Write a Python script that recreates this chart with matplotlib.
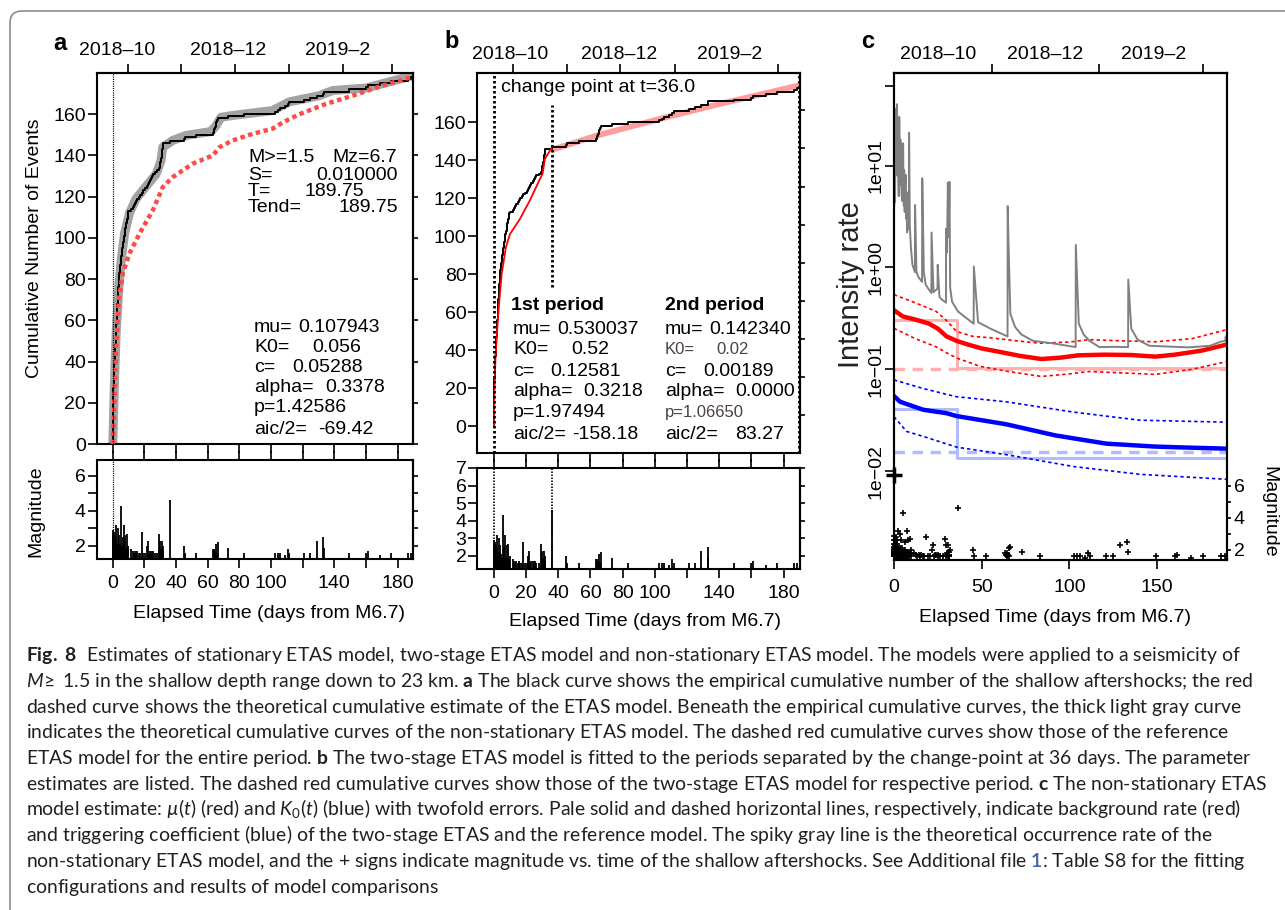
import numpy as np
import matplotlib
matplotlib.use("Agg")
import matplotlib.pyplot as plt
from matplotlib.patches import FancyBboxPatch
from matplotlib.transforms import IdentityTransform, Bbox
from matplotlib.ticker import FixedLocator, NullFormatter

W, H = 1285, 910

plt.rcParams['font.family'] = ['Liberation Sans', 'DejaVu Sans']
plt.rcParams['font.size'] = 14
plt.rcParams['axes.linewidth'] = 1.5
# caption: mixed upright / bold / italic runs through mathtext in Lato
plt.rcParams['mathtext.fontset'] = 'custom'
plt.rcParams['mathtext.rm'] = 'Lato'
plt.rcParams['mathtext.it'] = 'Lato:italic'
plt.rcParams['mathtext.bf'] = 'Lato:bold'

# ---------------------------------------------------------------------------
# Data
# ---------------------------------------------------------------------------
END_DAY = 189.75
CHANGE_DAY = 36.0
MAIN_MAG = 6.7

# shallow aftershocks M>=1.5: (days after the M6.7, magnitude)
aftershocks = [
    (0.005, 1.7), (0.01, 2.9), (0.015, 2.0), (0.02, 1.8), (0.025, 1.6), (0.03, 2.1),
    (0.035, 1.8), (0.04, 1.6), (0.045, 1.6), (0.05, 2.6), (0.06, 1.7), (0.07, 1.7),
    (0.08, 1.9), (0.09, 1.6), (0.10, 1.8), (0.11, 2.2), (0.13, 1.7), (0.15, 1.8),
    (0.17, 2.4), (0.19, 1.6), (0.22, 1.9), (0.25, 1.7), (0.28, 2.0), (0.31, 1.6),
    (0.34, 2.6), (0.38, 1.8), (0.42, 1.6), (0.46, 1.7), (0.50, 2.1), (0.55, 1.6),
    (0.60, 1.9), (0.65, 1.7), (0.70, 1.6), (0.76, 2.3), (0.82, 1.8), (0.88, 1.6),
    (0.94, 2.8), (1.00, 1.7), (1.06, 1.6), (1.12, 2.0), (1.19, 1.8), (1.26, 1.6),
    (1.33, 1.7), (1.40, 2.2), (1.47, 1.6), (1.54, 1.9), (1.61, 2.6), (1.68, 1.6),
    (1.75, 2.4), (1.82, 1.8), (1.89, 1.6), (1.96, 2.0), (2.02, 1.7), (2.08, 3.2),
    (2.14, 1.6), (2.20, 1.8), (2.26, 1.6), (2.32, 2.2), (2.38, 1.7), (2.43, 1.6),
    (2.48, 1.9),
    (2.55, 1.7), (2.60, 1.6), (2.66, 1.8), (2.72, 1.6), (2.79, 2.0), (2.85, 1.7),
    (2.93, 1.6), (3.00, 1.9), (3.08, 1.6), (3.15, 3.0), (3.22, 1.7), (3.31, 1.8),
    (3.38, 1.6), (3.46, 2.1), (3.52, 1.7), (3.61, 1.6), (3.68, 1.8), (3.78, 1.6),
    (3.86, 2.6), (3.95, 1.7), (4.05, 1.6),
    (4.20, 1.8), (4.35, 1.6), (4.60, 2.1), (4.66, 1.7), (4.80, 1.6), (4.95, 1.9),
    (5.10, 1.6), (5.25, 1.7), (5.40, 4.3), (5.55, 1.8),
    (5.75, 1.6), (5.90, 1.7), (6.05, 2.0), (6.25, 2.5), (6.45, 1.6), (6.60, 1.8),
    (6.80, 1.6), (7.00, 1.7), (7.20, 3.2), (7.40, 1.6), (7.60, 1.9),
    (7.85, 1.7), (8.00, 2.6), (8.20, 1.6), (8.45, 1.8), (8.70, 1.6), (9.00, 2.7),
    (9.30, 1.7), (9.55, 1.6), (9.65, 1.8), (9.72, 2.0),
    (11.6, 1.8), (12.6, 1.7), (13.2, 1.6), (14.0, 1.7), (14.7, 1.6), (15.6, 1.7),
    (16.3, 1.6), (17.2, 1.6), (18.2, 2.8), (19.2, 1.6), (20.3, 1.6),
    (21.5, 2.0), (22.1, 2.3), (22.6, 1.6), (23.3, 1.7), (24.2, 1.7), (24.8, 1.6),
    (25.3, 1.7), (26.4, 1.6), (28.0, 1.6), (29.1, 2.7),
    (29.6, 1.6), (29.8, 2.3), (30.1, 1.7), (30.4, 1.8), (30.6, 1.6), (31.0, 2.3),
    (31.2, 1.7), (31.3, 1.6), (31.4, 1.9), (31.5, 1.6), (31.6, 1.7), (31.7, 2.0),
    (36.2, 4.6), (44.8, 2.0), (45.7, 1.6), (52.6, 1.6),
    (63.2, 1.8), (63.8, 1.7), (64.2, 1.8), (64.6, 1.6), (65.0, 1.7), (65.3, 2.1),
    (65.8, 1.6), (66.3, 2.2), (73.1, 1.9), (83.2, 1.6),
    (102.7, 1.6), (104.2, 1.6), (105.9, 1.6), (108.8, 1.5), (110.5, 1.8), (111.6, 1.6),
    (121.0, 1.6), (124.8, 1.6), (128.8, 2.3), (133.0, 2.5), (133.2, 1.9), (149.5, 1.6),
    (160.0, 1.6), (161.1, 1.7), (169.0, 1.5), (175.8, 1.6), (186.5, 1.6), (188.4, 1.6),
]

# theoretical cumulative curves (days, number of events)
nonstat_cum = [(0, 0), (1.0, 29), (2.1, 54), (3.8, 76), (5.3, 89), (7.4, 102), (10.5, 112),
               (14.7, 119), (21.0, 125), (27.4, 131), (30.5, 137.6), (31.6, 144), (37.9, 147.3),
               (46.3, 149.7), (62.0, 151.6), (65.3, 154.5), (68.4, 158.5), (75.8, 159.4),
               (101.0, 161.8), (111.6, 166), (130.5, 169), (139.0, 171.5), (160.0, 172.7),
               (189.5, 178.7)]
reference_cum = [(0, 0), (1.0, 21.5), (2.1, 45.6), (3.8, 70), (6.3, 82.7), (10.5, 92.4),
                 (16.8, 102), (25.3, 113.4), (31.6, 124.7), (37.9, 129.5), (50.5, 136),
                 (63.2, 140), (67.4, 144), (75.8, 147.3), (88.4, 150.5), (101.0, 153),
                 (107.4, 156), (117.9, 160), (134.7, 165), (151.6, 169), (168.4, 173.4),
                 (189.5, 178.2)]
stage1_cum = [(0, 0), (0.3, 18), (1.0, 36), (2.0, 50), (3.0, 62), (4.8, 80), (7.4, 94),
              (9.9, 101), (16.1, 109), (22.3, 118.8), (28.5, 130), (30.2, 132.8),
              (31.7, 140.7), (36.0, 146.8)]
stage2_cum = [(36.0, 145.5), (63.7, 153), (103.0, 161.8), (140.3, 169.7), (189.75, 179.5)]

# non-stationary ETAS: occurrence rate, mu(t) and K0(t) with twofold errors
rate_curve = [(0.0, 5.0), (0.1, 4.0), (0.25, 28), (0.4, 9), (0.55, 36), (0.6, 4.4),
              (0.8, 30), (0.95, 14), (1.1, 34), (1.4, 8), (1.55, 30), (1.7, 40), (2.0, 12),
              (2.3, 21), (2.5, 7), (2.7, 5), (3.0, 30), (3.2, 11), (3.4, 6.5), (3.6, 18),
              (3.9, 16), (4.1, 7), (4.3, 5.5), (4.6, 4.5), (4.8, 12), (5.0, 14), (5.2, 16.5),
              (5.4, 6), (5.6, 4.0), (5.8, 9), (6.1, 3.5), (6.4, 6), (6.6, 8.1), (6.8, 4.2),
              (7.0, 3.0), (7.2, 5.5), (7.4, 2.2), (8.5, 2.6), (8.6, 21), (9.0, 2.6),
              (9.6, 1.6), (10.5, 1.06), (11.9, 0.9), (12.0, 4.1), (12.8, 0.9), (14.0, 0.8),
              (16.0, 0.72), (16.1, 7.5), (17.0, 0.9), (18.0, 0.68), (19.5, 0.62),
              (21.3, 0.56), (21.4, 2.2), (22.5, 0.57), (24.8, 0.62), (24.9, 1.06),
              (25.9, 0.51), (27.5, 0.48), (29.6, 0.45), (29.7, 2.4), (30.2, 1.4),
              (30.7, 6.8), (31.2, 2.0), (31.6, 6.9), (32.0, 0.63), (33.1, 0.46),
              (36.4, 0.37), (40.0, 0.33), (45.4, 0.28), (45.5, 1.02), (47.9, 0.29),
              (55.0, 0.25), (64.7, 0.21), (64.8, 4.0), (65.2, 1.8), (66.3, 0.35),
              (69.0, 0.26), (72.5, 0.22), (79.2, 0.19), (90.0, 0.18), (103.5, 0.165),
              (103.6, 1.66), (105.3, 0.28), (108.0, 0.22), (111.4, 0.19), (117.0, 0.165),
              (125.0, 0.166), (133.4, 0.165), (133.5, 0.76), (135.2, 0.25), (138.8, 0.195),
              (145.5, 0.17), (160.0, 0.166), (168.0, 0.164), (180.0, 0.17), (186.0, 0.186),
              (188.7, 0.19), (189.0, 0.21), (189.75, 0.21)]
mu_curve = [(0, 0.38), (5, 0.33), (12.9, 0.305), (20, 0.28), (25, 0.25), (30, 0.21),
            (35.6, 0.19), (42, 0.175), (50, 0.16), (62, 0.146), (72, 0.135), (84, 0.126),
            (95, 0.13), (105, 0.137), (120, 0.139), (135, 0.138), (149, 0.133), (160, 0.139),
            (175, 0.152), (189.75, 0.175)]
mu_upper = [(0, 0.54), (12, 0.45), (24, 0.37), (30, 0.3), (35.6, 0.235), (45, 0.21),
            (54.5, 0.204), (70, 0.19), (83, 0.18), (100, 0.185), (111, 0.195), (130, 0.19),
            (149, 0.186), (170, 0.2), (189.75, 0.245)]
mu_lower = [(0, 0.252), (12, 0.2), (24, 0.166), (30, 0.145), (35.6, 0.129), (48.9, 0.107),
            (65, 0.095), (84, 0.085), (100, 0.09), (111, 0.095), (130, 0.092), (149, 0.089),
            (170, 0.1), (189.75, 0.119)]
k0_curve = [(0, 0.0546), (3.4, 0.048), (16.7, 0.040), (30, 0.037), (35.6, 0.0347),
            (64, 0.0288), (92, 0.0224), (121, 0.0186), (149, 0.0174), (168, 0.017),
            (189.75, 0.0166)]
k0_upper = [(0, 0.0785), (16.7, 0.0646), (35.6, 0.0537), (64, 0.0479), (102, 0.038),
            (140, 0.0316), (189.75, 0.0302)]
k0_lower = [(0, 0.0342), (7.2, 0.0245), (16.7, 0.0219), (35.6, 0.0172), (64, 0.0145),
            (102, 0.0111), (140, 0.0093), (189.75, 0.0083)]

# two-stage levels (before / after the change point) and reference levels
mu_two_stage = [0.305, 0.102]
k0_two_stage = [0.0405, 0.0134]
mu_reference = 0.1015
k0_reference = 0.0155

month_labels = ['2018\u201310', '2018\u201312', '2019\u20132']
day_ticks = [0, 20, 40, 60, 80, 100, 120, 140, 160, 180]
day_labels = ['0', '20', '40', '60', '80', '100', '', '140', '', '180']

params_a = [('mu=', '0.107943'), ('K0=', '0.056'), ('c=', '0.05288'),
            ('alpha=', '0.3378'), ('p=1.42586', ''), ('aic/2=', '-69.42')]
params_b1 = [('mu=', '0.530037'), ('K0=', '0.52'), ('c=', '0.12581'),
             ('alpha=', '0.3218'), ('p=1.97494', ''), ('aic/2=', '-158.18')]
params_b2 = [('mu=', '0.142340'), ('K0=', '0.02'), ('c=', '0.00189'),
             ('alpha=', '0.0000'), ('p=1.06650', ''), ('aic/2=', '83.27')]

LINK_PREFIX = ('non-stationary ETAS model, and the + signs indicate magnitude vs. time of '
               'the shallow aftershocks. See Additional file')
caption = [
    r'$\mathbf{Fig.\ 8}$  Estimates of stationary ETAS model, two-stage ETAS model and non-stationary ETAS model. The models were applied to a seismicity of',
    r'$\mathit{M}\!\geq$ 1.5 in the shallow depth range down to 23 km. $\mathbf{a}$ The black curve shows the empirical cumulative number of the shallow aftershocks; the red',
    r'$\mathrm{dashed}$ curve shows the theoretical cumulative estimate of the ETAS model. Beneath the empirical cumulative curves, the thick light gray curve',
    r'$\mathrm{indicates}$ the theoretical cumulative curves of the non-stationary ETAS model. The dashed red cumulative curves show those of the reference',
    r'ETAS model for the entire period. $\mathbf{b}$ The two-stage ETAS model is fitted to the periods separated by the change-point at 36 days. The parameter',
    r'estimates are listed. The dashed red cumulative curves show those of the two-stage ETAS model for respective period. $\mathbf{c}$ The non-stationary ETAS',
    r'model estimate: $\mathit{µ}$($\mathit{t}$) (red) and $\mathit{K}_{\mathit{0}}$($\mathit{t}$) (blue) with twofold errors. Pale solid and dashed horizontal lines, respectively, indicate background rate (red)',
    r'$\mathrm{and}$ triggering coefficient (blue) of the two-stage ETAS and the reference model. The spiky gray line is the theoretical occurrence rate of the',
    LINK_PREFIX + r' $\mathrm{1}$: Table S8 for the fitting',
    r'$\mathrm{configurations}$ and results of model comparisons',
]


def cols(pairs):
    arr = np.array(pairs, dtype=float)
    return arr[:, 0], arr[:, 1]


shock_days, shock_mags = cols(aftershocks)
cum_days = np.concatenate([[0], shock_days, [END_DAY]])
cum_count = np.concatenate([[0], np.arange(1, len(shock_days) + 1), [len(shock_days)]])

# ---------------------------------------------------------------------------
# Helpers
# ---------------------------------------------------------------------------
fig = plt.figure(figsize=(W / 100, H / 100), dpi=100)
renderer = fig.canvas.get_renderer()


def box(l, t, r, b):
    return [l / W, 1 - b / H, (r - l) / W, (b - t) / H]


def ftext(x, y, s, **kw):
    return fig.text(x / W, 1 - y / H, s, **kw)


def right_ticks(ax, ticks):
    sec = ax.secondary_yaxis('right')
    sec.set_yticks(ticks)
    sec.tick_params(length=3.6, width=1.2, labelright=False)
    return sec


def month_axis(ax, tick_days, label_days, pad):
    top = ax.secondary_xaxis('top')
    top.set_xticks(label_days, labels=month_labels)
    top.set_xticks(tick_days, minor=True)
    top.tick_params(which='major', length=0, pad=pad, labelsize=14)
    top.tick_params(which='minor', length=6.5, width=1.2)
    return top


def dotted(ax, x, lw, y0=None, y1=None):
    style = dict(color='black', lw=lw, ls=(0, (0.9, 0.9)), zorder=5)
    if y0 is None:
        ax.axvline(x, **style)
    else:
        ax.plot([x, x], [y0, y1], **style)


def param_block(x_lab, rows, y_rows, x_vals, **kw):
    for (lab, val), y, xv in zip(rows, y_rows, x_vals):
        ftext(x_lab, y, lab, va='center', **kw)
        if val:
            ftext(xv, y, val, va='center', **kw)


# ---------------------------------------------------------------------------
# (a) stationary ETAS
# ---------------------------------------------------------------------------
ax_a = fig.add_axes(box(97, 73, 413, 444))
ax_a.set_xlim(-10, END_DAY)
ax_a.set_ylim(0, 180)
ax_a.plot(*cols(nonstat_cum), color='#a3a3a3', lw=6.5, solid_capstyle='round', zorder=1)
ax_a.step(cum_days, cum_count, where='post', color='black', lw=1.4, zorder=2)
ax_a.plot(*cols(reference_cum), color='#ff4a4a', lw=3.2, ls=(0, (1, 0.8)), zorder=3)
dotted(ax_a, 0, 0.9)
ax_a.set_xticks(day_ticks)
ax_a.set_yticks(np.arange(0, 161, 20))
ax_a.tick_params(direction='out', length=6.5, width=1.2)
ax_a.tick_params(axis='x', labelbottom=False)
ax_a.tick_params(axis='y', pad=1.5)
right_ticks(ax_a, np.arange(0, 161, 20))
month_axis(ax_a, [9.5, 43.4, 77.3, 111.2, 145.7, 176.7], [3.0, 72.6, 142.4], 10)

ax_am = fig.add_axes(box(97, 460, 413, 559))
ax_am.set_xlim(-10, END_DAY)
ax_am.set_ylim(1.25, 6.9)
ax_am.vlines(shock_days, 1.25, shock_mags, color='black', lw=1.3)
dotted(ax_am, 0, 0.9)
ax_am.set_xticks(day_ticks, labels=day_labels)
ax_am.set_yticks([2, 3, 4, 5, 6], labels=['2', '', '4', '', '6'])
ax_am.tick_params(direction='out', length=6.5, width=1.2, top=True)
ax_am.tick_params(axis='x', pad=4.9)
ax_am.tick_params(axis='y', pad=1.5)
right_ticks(ax_am, [2, 3, 4, 5, 6])

ftext(60, 43, 'a', fontsize=17, weight='bold', ha='center', va='center')
ftext(35, 248, 'Cumulative Number of Events', rotation=90, ha='center', va='center')
ftext(36, 511, 'Magnitude', rotation=90, ha='center', va='center')
ftext(269, 613, 'Elapsed Time (days from M6.7)', ha='center', va='center')

ftext(248, 157, 'M>=1.5', va='center')
ftext(332, 157, 'Mz=6.7', va='center')
ftext(248, 175, 'S=', va='center')
ftext(398, 175, '0.010000', va='center', ha='right')
ftext(248, 191, 'T=', va='center')
ftext(364, 191, '189.75', va='center', ha='right')
ftext(248, 208, 'Tend=', va='center')
ftext(398, 208, '189.75', va='center', ha='right')
rows_y = [327, 347, 368, 388, 408, 429]
param_block(254, params_a, rows_y, [298, 312, 292, 325, 0, 318])

# ---------------------------------------------------------------------------
# (b) two-stage ETAS
# ---------------------------------------------------------------------------
ax_b = fig.add_axes(box(477, 73, 800, 453))
ax_b.set_xlim(-10.5, 190.2)
ax_b.set_ylim(-14.2, 186)
ax_b.plot(*cols(stage2_cum), color='#ff9c9c', lw=4.2, solid_capstyle='butt', zorder=1)
ax_b.step(cum_days, cum_count, where='post', color='black', lw=1.4, zorder=2)
ax_b.plot(*cols(stage1_cum), color='#ff0000', lw=1.3, zorder=3)
dotted(ax_b, 0, 2.0)
dotted(ax_b, END_DAY, 2.0)
dotted(ax_b, CHANGE_DAY, 2.0, 73, 169)
ax_b.set_xticks(day_ticks)
ax_b.set_yticks(np.arange(0, 161, 20))
ax_b.tick_params(direction='out', length=6.5, width=1.2)
ax_b.tick_params(axis='x', labelbottom=False)
ax_b.tick_params(axis='y', pad=1.0)
right_ticks(ax_b, [5.6, 25.7, 45.8, 65.9, 86.0, 106.1, 126.2, 146.3, 166.4])
month_axis(ax_b, [11.6, 45.7, 78.4, 112.3, 146.0, 176.4], [9.9, 78.0, 146.5], 7.2)

ax_bm = fig.add_axes(box(477, 468, 800, 569))
ax_bm.set_xlim(-10.5, 190.2)
ax_bm.set_ylim(1.25, 7.0)
ax_bm.vlines(shock_days, 1.25, shock_mags, color='black', lw=1.3)
dotted(ax_bm, 0, 1.2)
dotted(ax_bm, CHANGE_DAY, 1.2)
ax_bm.set_xticks(day_ticks, labels=day_labels)
ax_bm.set_yticks([2, 3, 4, 5, 6, 7])
ax_bm.tick_params(direction='out', length=6.5, width=1.2, top=True)
ax_bm.tick_params(axis='x', pad=4.9)
ax_bm.tick_params(axis='y', pad=1.0)
right_ticks(ax_bm, [2, 3, 4, 5, 6, 7])

ftext(452, 41, 'b', fontsize=17, weight='bold', ha='center', va='center')
ftext(645, 622, 'Elapsed Time (days from M6.7)', ha='center', va='center')
ftext(501, 88, 'change point at t=36.0', va='center')
ftext(511, 306, '1st period', va='center', weight='bold')
ftext(665, 306, '2nd period', va='center', weight='bold')
rows_y = [329, 350, 372, 392, 413, 434]
param_block(513, params_b1, rows_y, [557, 571, 550, 583, 0, 572])
param_block(665, params_b2[:1], rows_y[:1], [709])
param_block(665, params_b2[1:2], rows_y[1:2], [716], fontsize=12, color='#4d4040')
param_block(665, params_b2[2:4], rows_y[2:4], [703, 735])
param_block(665, params_b2[4:5], rows_y[4:5], [0], fontsize=12, color='#4d4040')
param_block(665, params_b2[5:], rows_y[5:], [735])

# ---------------------------------------------------------------------------
# (c) non-stationary ETAS
# ---------------------------------------------------------------------------
ax_c = fig.add_axes(box(894, 73, 1227, 560))
ax_c.set_yscale('log')
ax_c.set_xlim(0, END_DAY)
ax_c.set_ylim(1.34e-3, 81)

pale_red, pale_blue = '#ffb0b0', '#b0bcff'
ax_c.plot([0, CHANGE_DAY, CHANGE_DAY, END_DAY],
          [mu_two_stage[0], mu_two_stage[0], mu_two_stage[1], mu_two_stage[1]],
          color=pale_red, lw=2.2, zorder=1)
ax_c.plot([0, CHANGE_DAY, CHANGE_DAY, END_DAY],
          [k0_two_stage[0], k0_two_stage[0], k0_two_stage[1], k0_two_stage[1]],
          color=pale_blue, lw=2.2, zorder=1)
ax_c.axhline(mu_reference, color=pale_red, lw=2.5, ls=(0, (3, 2.2)), zorder=1)
ax_c.axhline(k0_reference, color=pale_blue, lw=2.5, ls=(0, (3, 2.2)), zorder=1)

for band in (mu_upper, mu_lower):
    ax_c.plot(*cols(band), color='#ff0000', lw=1.2, ls=(0, (2, 1.8)), zorder=2)
for band in (k0_upper, k0_lower):
    ax_c.plot(*cols(band), color='#0000ff', lw=1.2, ls=(0, (2, 1.8)), zorder=2)
ax_c.plot(*cols(mu_curve), color='#ff0000', lw=3.2, zorder=3)
ax_c.plot(*cols(k0_curve), color='#0000ff', lw=3.2, zorder=3)
ax_c.plot(*cols(rate_curve), color='#808080', lw=1.4, zorder=4)

ax_c.set_xticks([0, 50, 100, 150])
ax_c.set_yticks([1e-2, 1e-1, 1, 10], labels=['1e\u221202', '1e\u221201', '1e+00', '1e+01'])
ax_c.yaxis.set_minor_locator(FixedLocator([60.7]))
ax_c.yaxis.set_minor_formatter(NullFormatter())
ax_c.tick_params(which='both', direction='out', length=6.5, width=1.2)
ax_c.tick_params(axis='x', pad=7.5)
ax_c.tick_params(axis='y', pad=0.5, labelrotation=90)
for lab in ax_c.get_yticklabels():
    lab.set_va('center')
month_axis(ax_c, [25, 56, 86, 117, 148, 176], [25, 86, 148], 7.2)

ax_ct = ax_c.twinx()
ax_ct.set_ylim(1.375, 31.8)
ax_ct.plot(shock_days, shock_mags, '+', color='black', ms=4.5, mew=1.2, clip_on=False)
ax_ct.plot([0], [MAIN_MAG], '+', color='black', ms=11, mew=2.5, clip_on=False)
ax_ct.set_yticks([2, 3, 4, 5, 6], labels=['2', '', '4', '', '6'])
ax_ct.tick_params(direction='out', length=3, width=1.2, pad=1.8)

ftext(868, 42, 'c', fontsize=17, weight='bold', ha='center', va='center')
ftext(851, 285, 'Intensity rate', fontsize=21, rotation=90, ha='center', va='center',
      color='#222222')
ftext(1269, 512, 'Magnitude', rotation=270, ha='center', va='center')
ftext(1055, 618, 'Elapsed Time (days from M6.7)', ha='center', va='center')

# ---------------------------------------------------------------------------
# frame and caption
# ---------------------------------------------------------------------------
frame = FancyBboxPatch((10, -40), 1320, 899 + 40,
                       boxstyle='round,pad=0,rounding_size=12',
                       transform=IdentityTransform(), facecolor='none',
                       edgecolor='#8c8c8c', lw=1.2)
fig.add_artist(frame)

CAP_X = 26.0
cap_style = dict(family=['Lato', 'DejaVu Sans'], color='#231f20', va='baseline', ha='left')


def text_width(s, size):
    t = ftext(0, 0, s, fontsize=size, **cap_style)
    w = t.get_window_extent(renderer).width
    t.remove()
    return w


cap_size = 12 * 1212 / text_width(caption[0], 12)
for i, line in enumerate(caption):
    y = 661 + 25.75 * i
    ftext(CAP_X, y, line, fontsize=cap_size, **cap_style)
    if line.startswith(LINK_PREFIX):
        # recolour the file number: same string in blue, clipped to that glyph
        x_end = CAP_X + text_width(LINK_PREFIX + r' $\mathrm{1}$', cap_size)
        x_start = x_end - text_width(r'$\mathrm{1}$', cap_size)
        link = ftext(CAP_X, y, line, fontsize=cap_size,
                     **{**cap_style, 'color': '#3a6db5'})
        link.set_clip_box(Bbox.from_extents(x_start - 0.5, H - y - 20, x_end + 0.8, H - y + 20))
        link.set_clip_on(True)

fig.savefig('out.png', dpi=100)
